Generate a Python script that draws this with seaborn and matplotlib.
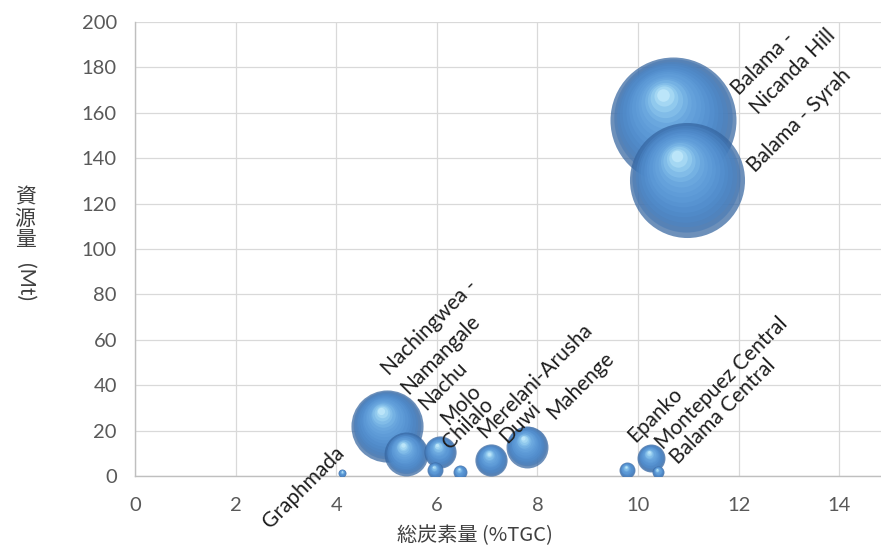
import numpy as np
import pandas as pd
import matplotlib
matplotlib.use("Agg")
import matplotlib.pyplot as plt
import matplotlib.transforms as mtransforms
from matplotlib.colors import LinearSegmentedColormap
import seaborn as sns

# ---------------- data ----------------
deposits = ["Graphmada", "Nachingwea -\nNamangale", "Nachu", "Molo", "Chilalo",
            "Merelani-Arusha", "Duwi", "Mahenge", "Epanko", "Montepuez Central",
            "Balama Central", "Balama -\nNicanda Hill", "Balama - Syrah"]
grade_tgc = [4.12, 5.01, 5.39, 6.06, 5.96, 6.46, 7.08, 7.79, 9.78, 10.26, 10.40, 10.70, 10.97]
resource_mt = [1.3, 22.0, 9.7, 10.6, 2.6, 1.8, 7.0, 12.8, 2.6, 7.9, 1.8, 156.8, 130.6]
bubble_size = [1.6, 130, 48, 26, 6.4, 4.9, 26, 44, 6.4, 19.6, 3.6, 397, 331]
x_ticks = [0, 2, 4, 6, 8, 10, 12, 14]
y_ticks = [0, 20, 40, 60, 80, 100, 120, 140, 160, 180, 200]

# label placement (style): offset of the (last line's) label start from bubble centre, px
label_offsets_px = [(-72, -56), (16, 36), (20, 43), (8, 26), (15, 20), (25, 33),
                    (16, 16), (27, 27), (8, 27), (12, 8), (20, 7), (80, 10), (68, 6)]

df = pd.DataFrame({"deposit": deposits, "grade": grade_tgc,
                   "resource": resource_mt, "size": bubble_size})

# ---------------- style ----------------
sns.set_theme(style="white")
plt.rcParams["font.family"] = ["Lato", "Noto Sans CJK JP", "DejaVu Sans"]

W, H, DPI = 881, 553, 100
fig = plt.figure(figsize=(W / DPI, H / DPI), dpi=DPI)
ax_left, ax_bottom = 135 / W, 1 - 476 / H
ax_top = 1 - 22 / H
ax = fig.add_axes([ax_left, ax_bottom, 1 - ax_left, ax_top - ax_bottom])

vmax = max(bubble_size)
smax = (126 * 0.72) ** 2  # marker area (pt^2) of the largest bubble

# smooth 3-D like shading: many concentric layers, inner ones shifted upward
shade = LinearSegmentedColormap.from_list(
    "bubble", [(0.0, "#3565A0"), (0.12, "#4A84C4"), (0.35, "#5794D4"),
               (0.65, "#6CAAE0"), (0.85, "#9AD2F2"), (1.0, "#D2F4FF")])
fracs = np.linspace(1.0, 0.1, 16)

order = np.argsort(bubble_size)[::-1]
for i in order:
    row = df.iloc[[i]]
    r_pt = np.sqrt(smax * bubble_size[i] / vmax) / 2
    for k, f in enumerate(fracs):
        t = (1.0 - f) / 0.9
        a = 0.72 if k == 0 else 0.5
        sns.scatterplot(data=row, x="grade", y="resource", size="size",
                        sizes=(0, smax * f * f), size_norm=(0, vmax),
                        color=shade(t), alpha=a, linewidth=0, legend=False, ax=ax,
                        zorder=3)
        coll = ax.collections[-1]
        dx = -0.18 * (1 - f) * r_pt
        dy = 0.45 * (1 - f) * r_pt
        coll.set_offset_transform(ax.transData + mtransforms.ScaledTranslation(
            dx / 72, dy / 72, fig.dpi_scale_trans))

# data labels
for name, gx, ry, (ox, oy) in zip(deposits, grade_tgc, resource_mt, label_offsets_px):
    ax.annotate(name, xy=(gx, ry), xytext=(ox, oy), textcoords="offset pixels",
                rotation=45, rotation_mode="anchor", ha="left", va="baseline",
                fontsize=15, color="#1E1E1E", linespacing=1.45, zorder=5,
                family=["Lato", "DejaVu Sans"])

# axes
ax.set_xlim(0, (W - 135) / 50.3)
ax.set_ylim(0, 200)
ax.set_xticks(x_ticks)
ax.set_yticks(y_ticks)
ax.grid(True, color="#D9D9D9", linewidth=0.9, zorder=0)
ax.set_axisbelow(True)
for s in ["top", "right"]:
    ax.spines[s].set_visible(False)
for s in ["left", "bottom"]:
    ax.spines[s].set_color("#BFBFBF")
    ax.spines[s].set_linewidth(1.0)
ax.tick_params(axis="both", length=0, labelsize=14.5, labelcolor="#595959")
ax.tick_params(axis="y", pad=13)
ax.tick_params(axis="x", pad=15)

ax.set_xlabel("総炭素量 (%TGC)", fontsize=14.5, color="#404040",
              family=["Noto Sans CJK JP", "DejaVu Sans"])
ax.xaxis.set_label_coords((475 - 135) / (W - 135), (476 - 536) / 454)
ax.xaxis.label.set_va("center")
ax.set_ylabel("")

ax.text((25 - 135) / (W - 135), (476 - 219) / 454, "資\n源\n量", transform=ax.transAxes,
        ha="center", va="center", fontsize=15, linespacing=0.95, color="#404040",
        family=["Noto Sans CJK JP", "DejaVu Sans"])
ax.text((25 - 135) / (W - 135), (476 - 282) / 454, "(Mt)", transform=ax.transAxes,
        ha="center", va="center", fontsize=15, rotation=270, color="#404040",
        family=["Lato", "DejaVu Sans"])

fig.savefig("out.png", dpi=DPI)
